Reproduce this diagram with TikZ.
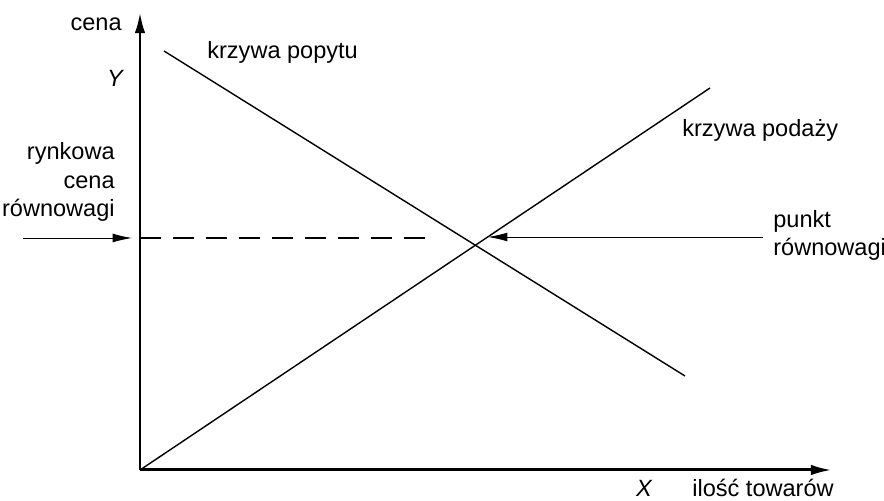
\documentclass[tikz,border=0pt]{standalone}
\usepackage{fontspec}
\setmainfont{Liberation Sans}
\usetikzlibrary{arrows.meta}

\begin{document}
\begin{tikzpicture}[
  font=\fontsize{13.4}{16}\selectfont,
  axis/.style={line width=1.7pt, -{Latex[length=12pt,width=6pt]}},
  curve/.style={line width=0.8pt},
  pointer/.style={line width=0.5pt, -{Latex[length=11pt,width=5pt]}},
  lbl/.style={inner sep=0pt}
  ]
  \useasboundingbox (-2.8,-0.62) rectangle (14.88,9.4);

  % Parameters
  \def\yeq{4.64}

  % Axes
  \coordinate (O) at (0,0);
  \coordinate (ytop) at (0,9.16);
  \coordinate (xend) at (13.84,0);
  \draw[axis] (O) -- (ytop);
  \draw[axis] (O) -- (xend);
  \node[lbl, anchor=east] (cena) at (-0.36,8.91) {cena};
  \node[lbl] (Ylbl) at (-0.5,7.84) {\itshape Y};
  \node[lbl] (Xlbl) at (10.08,-0.36) {\itshape X};
  \node[lbl, anchor=west] (ilosc) at (11.04,-0.36) {ilość towarów};

  % Demand and supply
  \coordinate (dstart) at (0.48,8.38);
  \coordinate (dstop) at (10.9,1.88);
  \coordinate (sstop) at (11.4,7.64);
  \draw[curve] (dstart) -- (dstop);
  \draw[curve] (O) -- (sstop);
  \node[lbl, anchor=west] (popyt) at (1.34,8.36) {krzywa popytu};
  \node[lbl, anchor=west] (podaz) at (10.84,6.8) {krzywa podaży};

  % Equilibrium price
  \coordinate (yeq) at (0,\yeq);
  \coordinate (dashend) at (5.92,\yeq);
  \draw[curve, dash pattern=on 12pt off 6.8pt] (yeq) -- (dashend);
  \coordinate (lstart) at (-2.34,\yeq);
  \coordinate (ltip) at (-0.16,\yeq);
  \draw[pointer] (lstart) -- (ltip);
  \node[lbl, anchor=east, align=right] (cenar) at (-0.5,5.76) {rynkowa\\cena\\równowagi};

  % Equilibrium point
  \coordinate (rstart) at (12.46,4.66);
  \coordinate (rtip) at (6.96,4.66);
  \draw[pointer] (rstart) -- (rtip);
  \node[lbl, anchor=west, align=left] (punkt) at (12.66,4.7) {punkt\\równowagi};

\end{tikzpicture}
\end{document}
